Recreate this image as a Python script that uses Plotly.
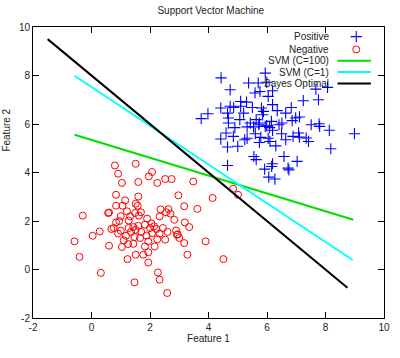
import plotly.graph_objects as go

# ---- data ----
pos_x = [5.94, 4.43, 5.37, 5.70, 5.99, 4.74, 5.59, 5.76, 6.04, 7.67, 8.07, 7.24, 7.76, 5.10, 4.74,
         4.42, 5.50, 5.81, 6.19, 5.88, 4.65, 6.64, 6.83, 7.11, 3.75, 3.98, 4.68, 5.07, 5.63, 5.74,
         5.32, 5.54, 5.99, 6.15, 6.51, 6.86, 6.19, 7.51, 7.78, 8.13, 8.99, 4.60, 4.42, 5.24, 5.32,
         5.79, 6.04, 6.10, 5.74, 6.64, 6.89, 7.11, 7.34, 7.42, 4.65, 5.00, 4.85, 8.18, 5.55, 5.63,
         6.58, 4.65, 6.19, 6.16, 5.92, 6.72, 6.75, 7.03, 6.06, 6.27, 6.19, 5.10, 4.68, 5.85, 5.43,
         5.72, 5.94, 6.09, 6.41, 6.98, 7.08, 4.86, 5.20, 6.35, 5.60, 6.50, 7.80, 5.30, 4.90, 6.30]
pos_y = [8.10, 7.90, 7.69, 7.69, 7.72, 7.41, 7.28, 7.34, 7.14, 7.44, 7.51, 6.96, 7.00, 6.93, 6.73,
         6.66, 6.68, 6.66, 6.80, 6.52, 6.45, 6.45, 6.68, 6.29, 6.22, 6.42, 6.04, 6.18, 6.18, 6.04,
         5.88, 5.88, 5.93, 6.11, 6.04, 6.14, 5.74, 5.97, 6.01, 5.74, 5.60, 5.63, 5.38, 5.35, 5.41,
         5.45, 5.41, 5.28, 5.24, 5.35, 5.49, 5.46, 5.42, 5.28, 5.05, 5.08, 5.49, 4.98, 4.66, 4.53,
         4.66, 4.29, 4.36, 4.25, 4.14, 4.18, 4.11, 4.46, 3.81, 3.73, 7.37, 6.73, 6.25, 6.38, 6.04,
         5.97, 5.90, 5.85, 5.97, 6.25, 5.63, 6.68, 6.45, 6.55, 5.60, 5.60, 5.90, 6.90, 5.85, 5.10]

neg_x = [0.80, 1.51, 0.91, 1.04, 1.60, 1.96, 2.07, 2.25, 2.52, 2.74, 3.48, 0.84, 1.60, 1.15, 0.84,
         1.06, 1.51, 1.58, 2.97, 4.14, 3.17, 3.62, -0.30, 0.57, 1.21, 1.49, 1.69, 1.62, 2.36, 2.55,
         2.63, 0.84, 1.27, 2.33, 2.83, 3.19, 3.34, 0.28, 0.04, 0.76, 0.91, 1.27, 1.43, 1.51, 1.83,
         2.00, 2.14, 2.22, 2.44, 2.89, 2.92, 1.18, 1.47, 1.66, 2.07, 2.33, 2.52, 3.00, 3.17, 3.90,
         -0.58, 0.60, 1.04, 1.43, 1.83, 1.94, 2.16, 1.51, 1.77, 1.94, 3.28, -0.41, 1.23, 1.94, 4.51,
         0.32, 2.27, 2.33, 1.47, 2.59, 0.68, 1.32, 4.84, 5.01, 1.60, 1.70, 2.05, 1.35, 2.60, 1.00,
         1.90, 1.25, 0.95, 2.70, 1.10, 2.95, 0.60, 1.00, 1.88, 2.25]
neg_y = [4.29, 4.36, 3.95, 3.57, 3.61, 3.84, 4.02, 3.57, 3.73, 3.73, 3.63, 3.08, 3.01, 2.85, 2.63,
         2.63, 2.71, 2.63, 3.06, 2.95, 2.61, 2.50, 2.22, 2.33, 2.40, 2.33, 2.36, 2.22, 2.48, 2.36,
         2.49, 1.94, 2.02, 2.19, 2.05, 1.94, 1.75, 1.57, 1.39, 1.71, 1.48, 1.71, 1.75, 1.64, 1.85,
         1.71, 1.78, 1.67, 1.71, 1.61, 1.43, 1.39, 1.34, 1.30, 1.50, 1.48, 1.23, 1.30, 1.09, 1.16,
         1.16, 0.98, 0.93, 1.06, 0.95, 1.16, 0.95, 0.61, 0.61, 0.71, 0.61, 0.52, 0.43, 0.29, 0.43,
         -0.14, -0.12, -0.42, -0.53, -0.97, 1.67, 2.19, 3.33, 3.08, 1.80, 1.55, 1.90, 1.55, 1.55, 2.20,
         2.10, 1.05, 2.00, 2.30, 1.20, 1.45, 2.35, 1.60, 1.40, 1.25]

svm_c100_x = [-0.58, 8.95]
svm_c100_y = [5.56, 2.05]
svm_c1_x = [-0.58, 8.93]
svm_c1_y = [7.99, 0.39]
bayes_x = [-1.5, 8.75]
bayes_y = [9.5, -0.75]

x_ticks = [-2, 0, 2, 4, 6, 8, 10]
y_ticks = [-2, 0, 2, 4, 6, 8, 10]

legend_labels = ["Positive", "Negative", "SVM (C=100)", "SVM (C=1)", "Bayes Optimal"]

FONT = "Liberation Sans, Arial, sans-serif"
TXT = "#222222"
BLUE = "#0000ff"
RED = "#ff0000"
GREEN = "#00e000"
CYAN = "#00ffff"

PLUS = dict(symbol="cross-thin-open", size=8, color=BLUE, line=dict(color=BLUE, width=1.1))
RING = dict(symbol="circle-open", size=7, color=RED, line=dict(color=RED, width=1))

fig = go.Figure()
fig.add_trace(go.Scatter(x=pos_x, y=pos_y, mode="markers", name="Positive", showlegend=False, marker=PLUS))
fig.add_trace(go.Scatter(x=neg_x, y=neg_y, mode="markers", name="Negative", showlegend=False, marker=RING))
fig.add_trace(go.Scatter(x=svm_c100_x, y=svm_c100_y, mode="lines", name="SVM (C=100)", showlegend=False,
                         line=dict(color=GREEN, width=2)))
fig.add_trace(go.Scatter(x=svm_c1_x, y=svm_c1_y, mode="lines", name="SVM (C=1)", showlegend=False,
                         line=dict(color=CYAN, width=2)))
fig.add_trace(go.Scatter(x=bayes_x, y=bayes_y, mode="lines", name="Bayes Optimal", showlegend=False,
                         line=dict(color="black", width=2)))

# legend drawn gnuplot-style (text to the left of the sample) on a hidden overlay axis
row_y = [0.967, 0.923, 0.884, 0.845, 0.806]
text_x = 0.849
sym_x = 0.921
line_x0, line_x1 = 0.8675, 0.9627
fig.add_trace(go.Scatter(x=[sym_x], y=[row_y[0]], xaxis="x2", yaxis="y2", mode="markers", showlegend=False,
                         hoverinfo="skip", marker=PLUS))
fig.add_trace(go.Scatter(x=[sym_x], y=[row_y[1]], xaxis="x2", yaxis="y2", mode="markers", showlegend=False,
                         hoverinfo="skip", marker=RING))
for yy, col in zip(row_y[2:], [GREEN, CYAN, "black"]):
    fig.add_trace(go.Scatter(x=[line_x0, line_x1], y=[yy, yy], xaxis="x2", yaxis="y2", mode="lines",
                             showlegend=False, hoverinfo="skip", line=dict(color=col, width=2)))
for yy, lab in zip(row_y, legend_labels):
    fig.add_annotation(x=text_x, y=yy, xref="paper", yref="paper", text=lab, showarrow=False,
                       xanchor="right", yanchor="middle", font=dict(family=FONT, size=10, color=TXT))

# y-axis title placed as in the reference
fig.add_annotation(x=-0.078, y=1 - (130 - 27) / 291, xref="paper", yref="paper", text="Feature 2",
                   showarrow=False, textangle=-90, xanchor="center", yanchor="middle",
                   font=dict(family=FONT, size=10, color=TXT))

axis_common = dict(showgrid=False, zeroline=False, showline=True, linecolor="black", linewidth=1,
                   mirror="ticks", ticks="inside", ticklen=6, tickcolor="black", tickwidth=1,
                   tickfont=dict(family=FONT, size=10, color=TXT))

fig.update_layout(
    width=400, height=358,
    margin=dict(l=33, r=10, t=27, b=40),
    paper_bgcolor="white", plot_bgcolor="white",
    title=dict(text="Support Vector Machine", x=0.527, xanchor="center", y=0.972, yanchor="middle",
               font=dict(family=FONT, size=10, color=TXT)),
    xaxis=dict(range=[-2, 10], tickvals=x_ticks, ticktext=[str(v) for v in x_ticks],
               title=dict(text="Feature 1", standoff=2, font=dict(family=FONT, size=10, color=TXT)),
               **axis_common),
    yaxis=dict(range=[-2, 10], tickvals=y_ticks, ticktext=[str(v) for v in y_ticks], **axis_common),
    xaxis2=dict(range=[0, 1], overlaying="x", visible=False, fixedrange=True),
    yaxis2=dict(range=[0, 1], overlaying="y", visible=False, fixedrange=True),
    showlegend=False,
)

fig.write_html("out.html", config={"displayModeBar": False},
               post_script="document.body.style.margin='0';document.body.style.overflow='hidden';")
